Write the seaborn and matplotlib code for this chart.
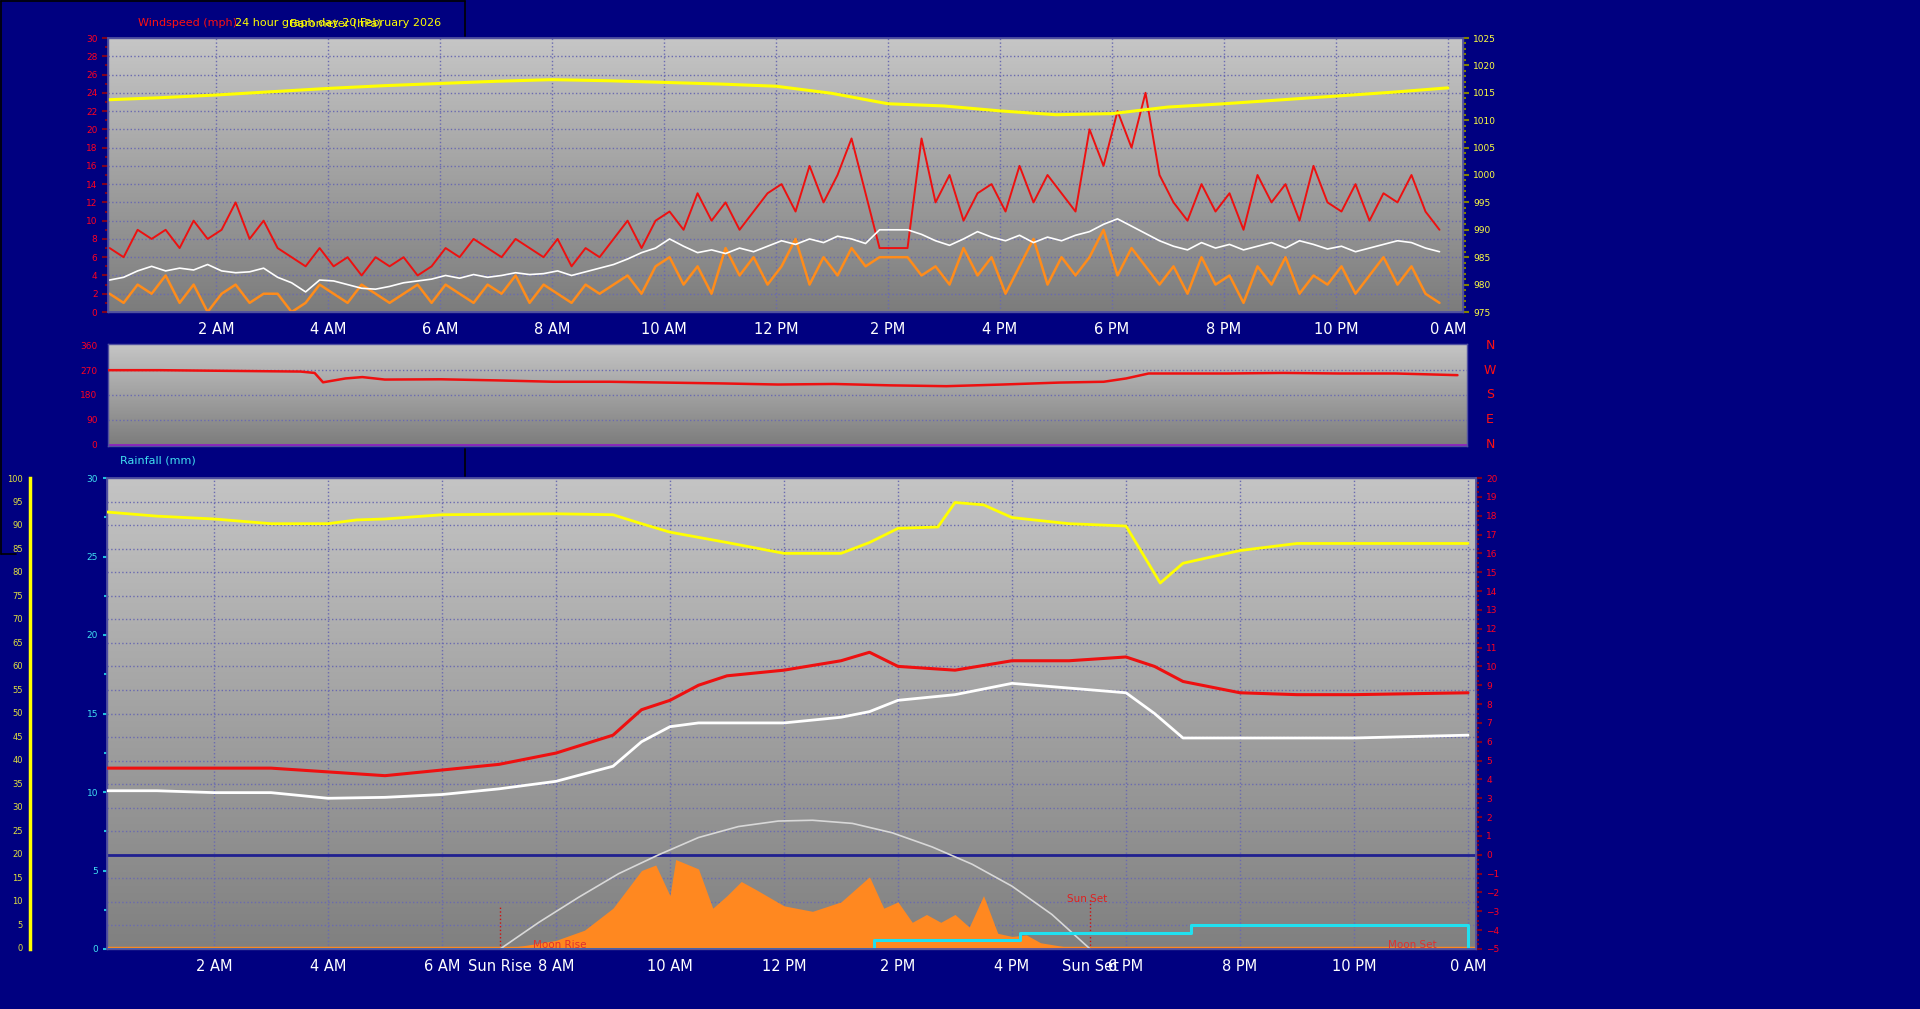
import numpy as np
import pandas as pd
import matplotlib
matplotlib.use("Agg")
import matplotlib.pyplot as plt
import seaborn as sns

sns.set_theme(style="white")
plt.rcParams['font.family'] = ['DejaVu Sans']

# ---------------- data ----------------
gust = [7,6,9,8,9,7,10,8,9,12,8,10,
        7,6,5,7,5,6,4,6,5,6,4,5,
        7,6,8,7,6,8,7,6,8,5,7,6,
        8,10,7,10,
        11,9,13,10,12,9,11,13,
        14,11,16,12,15,19,13,
        7,7,7,19,
        12,15,10,13,14,11,16,12,15,13,11,
        20,16,22,18,24,
        15,12,10,14,11,13,9,15,12,14,10,16,12,11,14,10,13,12,15,11,9]
avg = [3.5,3.8,4.5,5,4.5,4.8,4.6,5.2,4.5,4.3,4.4,4.8,
       3.8,3.2,2.2,3.5,3.4,3.0,2.6,2.5,2.8,3.2,3.4,3.6,
       4.0,3.7,4.1,3.8,4.0,4.3,4.1,4.2,4.5,4.0,4.4,4.8,
       5.2,5.8,6.5,7.0,
       8.0,7.2,6.5,6.8,6.4,7.0,6.6,7.2,
       7.8,7.4,8.0,7.6,8.3,8.0,7.5,
       9,9,9,8.5,
       7.8,7.3,8.0,8.8,8.2,7.8,8.4,7.6,8.2,7.8,8.4,
       8.8,9.6,10.2,9.4,8.6,
       7.8,7.2,6.8,7.6,7.0,7.4,6.8,7.2,7.6,7.0,7.8,7.4,6.9,7.2,6.6,7.0,7.4,7.8,7.6,7.0,6.6]
speed = [2,1,3,2,4,1,3,0,2,3,1,2,
         2,0,1,3,2,1,3,2,1,2,3,1,
         3,2,1,3,2,4,1,3,2,1,3,2,
         3,4,2,5,
         6,3,5,2,7,4,6,3,
         5,8,3,6,4,7,5,
         6,6,6,4,
         5,3,7,4,6,2,5,8,3,6,4,
         6,9,4,7,5,
         3,5,2,6,3,4,1,5,3,6,2,4,3,5,2,4,6,3,5,2,1]
wind_hours = [i * 0.25 + 0.1 for i in range(96)]

hours = list(range(25))
pressure = [1013.7,1014.1,1014.6,1015.2,1015.8,1016.3,1016.7,1017.1,1017.4,1017.2,1016.9,
            1016.6,1016.2,1014.9,1013.0,1012.6,1011.7,1011.0,1011.2,1012.4,1013.0,1013.7,
            1014.4,1015.1,1015.9]
dir_hours = [0,1,2,3,3.5,3.75,3.9,4.3,4.6,5,6,7,8,9,10,11,12,13,14,15,16,17,17.8,18.2,18.6,19,20,21,22,23,24.1]
wind_dir = [270,270,268,266,265,260,226,240,245,236,237,233,228,228,225,222,218,220,215,212,218,
            225,228,240,258,258,258,260,258,258,252]

th_hours = [0,1,2,3,4,5,6,7,8,9,9.5,10,10.5,11,12,13,13.5,14,15,16,17,18,18.5,19,20,21,22,24]
temp = [4.6,4.6,4.6,4.6,4.4,4.2,4.5,4.8,5.4,6.35,7.7,8.2,9.0,9.5,9.8,10.3,10.75,10.0,9.8,10.3,
        10.3,10.5,10.0,9.2,8.6,8.5,8.5,8.6]
dew = [3.4,3.4,3.3,3.3,3.0,3.05,3.2,3.5,3.9,4.7,6.0,6.8,7.0,7.0,7.0,7.3,7.6,8.2,8.5,9.1,
       8.85,8.6,7.5,6.2,6.2,6.2,6.2,6.35]
hum_hours = [0,1,2,3,4,4.5,5,6,8,9,9.5,10,11,12,13,13.5,14,14.7,15,15.5,16,17,18,18.6,19,20,21,22,24]
humidity = [92.6,91.6,91,90,90,90.8,91,91.9,92.1,91.9,90,88.2,86,83.7,83.7,86,89,89.3,94.5,
            94,91.3,90,89.5,77.4,81.6,84.3,85.8,85.8,85.8]
solar_hours = [7.0,7.5,8.0,8.5,9.0,9.25,9.5,9.75,10.0,10.1,10.5,10.75,11.0,11.25,11.5,12.0,
               12.5,13.0,13.25,13.5,13.75,14.0,14.25,14.5,14.75,15.0,15.25,15.5,15.75,16.0,
               16.25,16.5,16.75,17.0,17.5]
solar = [0,0.25,0.55,1.2,2.6,3.8,5.0,5.35,3.4,5.7,5.1,2.6,3.4,4.3,3.8,2.75,2.4,3.0,3.8,4.6,
         2.6,3.0,1.7,2.2,1.7,2.2,1.4,3.4,1.0,0.8,0.9,0.4,0.25,0.1,0]
sun_hours = [7.02,7.7,8.4,9.1,9.8,10.5,11.2,11.9,12.5,13.2,13.9,14.6,15.3,16.0,16.7,17.37]
sun_curve = [0,1.7,3.3,4.8,6.0,7.1,7.8,8.15,8.2,8.0,7.4,6.5,5.4,4.0,2.2,0]
rain_hours = [0.1,13.58,13.58,16.14,16.14,19.14,19.14,24.0,24.0,24.14]
rain = [0,0,0.6,0.6,1.0,1.0,1.5,1.5,0,0]

sunrise, sunset = 7.02, 17.37
moonrise, moonset = 7.6, 22.6

NAVY = '#000080'
W, H = 1920, 1009

def rect(l, t, r, b):
    return [l / W, 1 - b / H, (r - l) / W, (b - t) / H]

fig = plt.figure(figsize=(19.2, 10.09), dpi=100, facecolor=NAVY)

def gradient(ax, top='#c6c6c6', bot='#7c7c7c'):
    g = np.linspace(0, 1, 256).reshape(-1, 1)
    cmap = matplotlib.colors.LinearSegmentedColormap.from_list('g', [top, bot])
    ax.imshow(g, aspect='auto', cmap=cmap, extent=[0, 1, 0, 1], transform=ax.transAxes,
              zorder=0, origin='upper')

def style_ax(ax):
    ax.set_facecolor('#a0a0a0')
    for s in ax.spines.values():
        s.set_color('#5050a0')
        s.set_linewidth(1)

grid_kw = dict(color='#6a6ab0', linestyle=':', linewidth=1)
line_kw = dict(estimator=None, sort=False)

# ---------------- top: wind + pressure ----------------
ax1 = fig.add_axes(rect(108, 38, 1463, 312))
style_ax(ax1)
gradient(ax1)
x0t, x1t = 0.071, 24.27
ax1.set_xlim(x0t, x1t)
ax1.set_ylim(0, 30)
for yv in np.arange(2, 30, 2):
    ax1.axhline(yv, zorder=1, **grid_kw)
for xv in range(2, 25, 2):
    ax1.axvline(xv, zorder=1, **grid_kw)
wdf = pd.DataFrame({'h': wind_hours, 'gust': gust, 'avg': avg, 'speed': speed})
sns.lineplot(data=wdf, x='h', y='speed', ax=ax1, color='#ff8c1a', lw=1.8, zorder=3, **line_kw)
sns.lineplot(data=wdf, x='h', y='gust', ax=ax1, color='#ee1010', lw=1.4, zorder=4, **line_kw)
sns.lineplot(data=wdf, x='h', y='avg', ax=ax1, color='white', lw=1.2, zorder=5, **line_kw)
ax1.set_yticks(np.arange(0, 31, 2))
ax1.set_yticks(np.arange(0, 31, 1), minor=True)
ax1.tick_params(axis='y', colors='#800020', labelcolor='#ff0020', labelsize=6.5, length=4,
                direction='out', which='both', width=1.5)
ax1.tick_params(axis='y', which='minor', length=2)
ax1.set_xticks(range(2, 25, 2))
ax1.set_xticklabels(['2 AM', '4 AM', '6 AM', '8 AM', '10 AM', '12 PM', '2 PM', '4 PM', '6 PM', '8 PM', '10 PM', '0 AM'])
ax1.set_xticks(np.arange(1, 25, 0.5), minor=True)
ax1.tick_params(axis='x', colors='#5050a0', labelcolor='white', labelsize=10.5, length=3, pad=4, which='both')
ax1.set_xlabel(''); ax1.set_ylabel('')

ax1r = ax1.twinx()
ax1r.set_ylim(975, 1025)
pdf = pd.DataFrame({'h': hours, 'p': pressure})
sns.lineplot(data=pdf, x='h', y='p', ax=ax1r, color='#ffff00', lw=2.2, **line_kw)
ax1r.set_xlim(x0t, x1t)
ax1r.set_yticks(np.arange(975, 1026, 5))
ax1r.set_yticks(np.arange(975, 1026, 1), minor=True)
ax1r.tick_params(axis='y', colors='#808000', labelcolor='#ffff40', labelsize=6.5, length=4, width=1.5, which='both')
ax1r.tick_params(axis='y', which='minor', length=2)
ax1r.set_ylabel('')
for s in ax1r.spines.values():
    s.set_color('#5050a0')

# ---------------- middle: wind direction ----------------
ax2 = fig.add_axes(rect(108, 344, 1467, 446))
style_ax(ax2)
gradient(ax2)
ax2.set_xlim(x0t, x1t)
ax2.set_ylim(-5, 365)
for yv in [90, 180, 270]:
    ax2.axhline(yv, zorder=1, **grid_kw)
ax2.axhline(0, color='#9020c0', lw=2, zorder=2)
ddf = pd.DataFrame({'h': dir_hours, 'd': wind_dir})
sns.lineplot(data=ddf, x='h', y='d', ax=ax2, color='#ee1010', lw=1.8, zorder=3, **line_kw)
ax2.set_xticks([])
ax2.set_yticks([0, 90, 180, 270, 360])
ax2.set_yticks(np.arange(0, 361, 22.5), minor=True)
ax2.tick_params(axis='y', colors='#800020', labelcolor='#ff0020', labelsize=6.5, length=4, width=1.5, which='both')
ax2.tick_params(axis='y', which='minor', length=2)
ax2.set_xlabel(''); ax2.set_ylabel('')
for lab, yv in zip(['N', 'W', 'S', 'E', 'N'], [360, 270, 180, 90, 0]):
    ax2.text(1.017, (yv + 5) / 370, lab, transform=ax2.transAxes, color='#ff1010',
             fontsize=9, va='center', ha='center')

# ---------------- bottom: temperature / humidity / rain / solar ----------------
ax3 = fig.add_axes(rect(107, 478, 1476, 949))
style_ax(ax3)
gradient(ax3, '#c4c4c4', '#808080')
x0b, x1b = 0.123, 24.14
ax3.set_xlim(x0b, x1b)
ax3.set_ylim(0, 30)
for k in range(1, 20):
    yv = k * 1.5
    ax3.axhline(yv, zorder=1, **grid_kw)
for xv in range(2, 25, 2):
    ax3.axvline(xv, zorder=1, **grid_kw)
ax3.axhline(6.0, color='#202090', lw=2, zorder=2)
ax3.plot([sunrise, sunrise], [0, 2.8], color='#d01010', lw=1, ls=':', zorder=2)
ax3.plot([sunset, sunset], [0, 3.2], color='#d01010', lw=1, ls=':', zorder=2)
ax3.text(sunset - 0.4, 3.0, 'Sun Set', color='#e02020', fontsize=7.5, zorder=6)
ax3.text(moonrise, 0.05, 'Moon Rise', color='#e03030', fontsize=7.5, zorder=6)
ax3.text(moonset, 0.05, 'Moon Set', color='#e03030', fontsize=7.5, zorder=6)
ax3.fill_between(solar_hours, solar, 0, color='#ff8820', lw=0, zorder=3)
sdf = pd.DataFrame({'h': sun_hours, 's': sun_curve})
sns.lineplot(data=sdf, x='h', y='s', ax=ax3, color='#d8d8d8', lw=1.2, zorder=4, **line_kw)
ax3.axhline(0.05, color='#ff8820', lw=2.5, zorder=3)
rdf = pd.DataFrame({'h': rain_hours, 'r': rain})
sns.lineplot(data=rdf, x='h', y='r', ax=ax3, color='#20e0f0', lw=2.2, zorder=5, **line_kw)
ax3.set_yticks(np.arange(0, 31, 5))
ax3.set_yticks(np.arange(0, 31, 2.5), minor=True)
ax3.tick_params(axis='y', colors='#20c0e0', labelcolor='#40e0f0', labelsize=6.5, length=3, width=1.5, which='both')
ax3.tick_params(axis='y', which='minor', length=2)
ax3.set_xticks([2, 4, 6, sunrise, 8, 10, 12, 14, 16, sunset, 18, 20, 22, 24])
ax3.set_xticklabels(['2 AM', '4 AM', '6 AM', 'Sun Rise', '8 AM', '10 AM', '12 PM', '2 PM', '4 PM',
                     'Sun Set', '6 PM', '8 PM', '10 PM', '0 AM'])
ax3.set_xticks(np.arange(1, 25, 0.5), minor=True)
ax3.tick_params(axis='x', colors='#5050a0', labelcolor='white', labelsize=10.5, length=3, pad=4, which='both')
ax3.set_xlabel(''); ax3.set_ylabel('')

ax3r = ax3.twinx()
ax3r.set_ylim(-5, 20)
tdf = pd.DataFrame({'h': th_hours, 't': temp, 'd': dew})
sns.lineplot(data=tdf, x='h', y='t', ax=ax3r, color='#ee1010', lw=2.2, zorder=5, **line_kw)
sns.lineplot(data=tdf, x='h', y='d', ax=ax3r, color='white', lw=2.0, zorder=5, **line_kw)
ax3r.set_xlim(x0b, x1b)
ax3r.set_yticks(range(-5, 21))
ax3r.set_yticks(np.arange(-5, 20.1, 0.25), minor=True)
ax3r.tick_params(axis='y', colors='#800020', labelcolor='#ff0020', labelsize=6.5, length=4, width=1.5, which='both')
ax3r.tick_params(axis='y', which='minor', length=2)
ax3r.set_ylabel('')
for s in ax3r.spines.values():
    s.set_color('#5050a0')

axh = ax3.twinx()
axh.set_ylim(-0.3, 99.7)
hdf = pd.DataFrame({'h': hum_hours, 'u': humidity})
sns.lineplot(data=hdf, x='h', y='u', ax=axh, color='#ffff00', lw=2.0, zorder=5, **line_kw)
axh.set_xlim(x0b, x1b)
axh.set_yticks([])
axh.set_ylabel('')
for s in axh.spines.values():
    s.set_visible(False)

axs = fig.add_axes(rect(30, 478, 31, 949))
axs.set_facecolor(NAVY)
axs.set_ylim(-0.3, 99.7)
axs.set_xticks([])
for k, s in axs.spines.items():
    s.set_visible(k == 'left')
axs.spines['left'].set_color('#ffff00')
axs.spines['left'].set_linewidth(2.5)
axs.set_yticks(np.arange(0, 101, 5))
axs.set_yticklabels([str(v) for v in range(0, 101, 5)])
axs.set_yticks(np.arange(0, 101, 1), minor=True)
axs.tick_params(axis='y', colors='#808000', labelcolor='#e0e040', labelsize=6, length=4, width=1.5, which='both', pad=1)
axs.tick_params(axis='y', which='minor', length=2)

fig.text(138 / W, 1 - 23 / H, 'Windspeed (mph)', color='#ff1010', fontsize=8, va='center')
fig.text(235 / W, 1 - 23 / H, '24 hour graph day 20 February 2026', color='#ffff00', fontsize=8, va='center')
fig.text(290 / W, 1 - 23 / H, 'Barometer (hPa)', color='#ffff00', fontsize=8, va='center')
fig.text(120 / W, 1 - 461 / H, 'Rainfall (mm)', color='#40e0f0', fontsize=8, va='center')
from matplotlib.lines import Line2D
for xs, ys in [([1, 465], [1, 1]), ([465, 465], [1, 36]), ([1, 1], [1, 554]), ([1, 16], [554, 554]),
               ([465, 465], [449, 476])]:
    fig.add_artist(Line2D([x / W for x in xs], [1 - y / H for y in ys], color='black', lw=1.2))

fig.savefig('out.png', dpi=100, facecolor=NAVY)
